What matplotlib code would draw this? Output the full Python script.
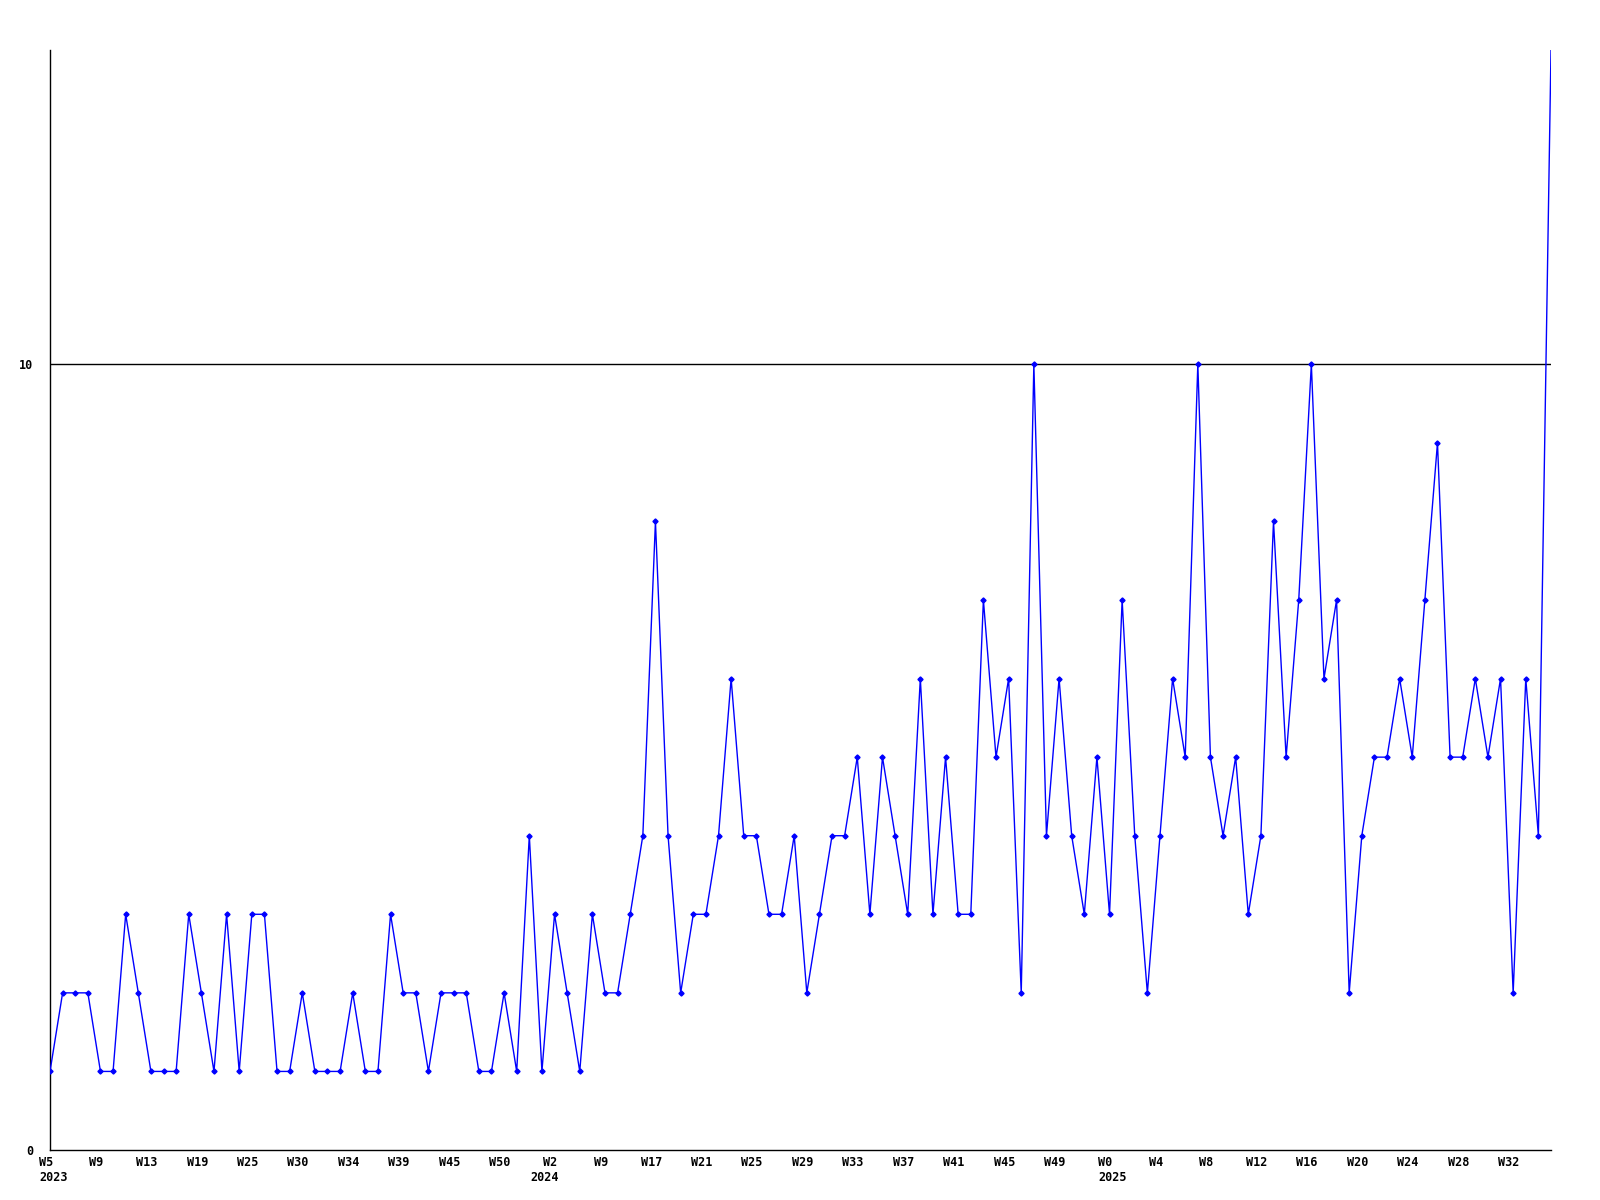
import matplotlib
matplotlib.use('Agg')
import matplotlib.pyplot as plt
import matplotlib.transforms as mtransforms

# weekly counts, one point per week (some weeks missing)
counts = [1, 2, 2, 2, 1, 1, 3, 2, 1, 1,
          1, 3, 2, 1, 3, 1, 3, 3, 1, 1,
          2, 1, 1, 1, 2, 1, 1, 3, 2, 2,
          1, 2, 2, 2, 1, 1, 2, 1, 4, 1,
          3, 2, 1, 3, 2, 2, 3, 4, 8, 4,
          2, 3, 3, 4, 6, 4, 4, 3, 3, 4,
          2, 3, 4, 4, 5, 3, 5, 4, 3, 6,
          3, 5, 3, 3, 7, 5, 6, 2, 10, 4,
          6, 4, 3, 5, 3, 7, 4, 2, 4, 6,
          5, 10, 5, 4, 5, 3, 4, 8, 5, 7,
          10, 6, 7, 2, 4, 5, 5, 6, 5, 7,
          9, 5, 5, 6, 5, 6, 2, 6, 4, 14]

week_labels = ['W5', 'W9', 'W13', 'W19', 'W25', 'W30', 'W34', 'W39', 'W45', 'W50',
               'W2', 'W9', 'W17', 'W21', 'W25', 'W29', 'W33', 'W37', 'W41', 'W45',
               'W49', 'W0', 'W4', 'W8', 'W12', 'W16', 'W20', 'W24', 'W28', 'W32']
label_step = 4
years = ['2023', '2024', '2025']
year_pos = [0, 40, 84]

y_ticks = [0, 10]

font = dict(family='DejaVu Sans Mono', fontweight='bold', fontsize=8.5)

fig = plt.figure(figsize=(16, 12), dpi=100)
ax = fig.add_axes([50/1600, 50/1200, 1501/1600, 1100/1200])

x = list(range(len(counts)))
ax.axhline(10, color='black', lw=1.0, zorder=1)
# last point sits on the top edge, no marker drawn there
ax.plot(x, counts, color='#0000ff', lw=1.0, marker='D', ms=2.6,
        markevery=list(range(len(counts) - 1)), zorder=3)

ax.set_xlim(0, len(counts) - 1)
ax.set_ylim(0, 14)

for s in ['top', 'right']:
    ax.spines[s].set_visible(False)
for s in ['left', 'bottom']:
    ax.spines[s].set_linewidth(1.0)
    ax.spines[s].set_color('black')

ax.set_yticks(y_ticks)
ax.set_yticklabels([str(v) for v in y_ticks], **font)
ax.set_xticks(x[::label_step])
ax.set_xticklabels(week_labels, **font)
ax.tick_params(axis='both', length=0)
ax.tick_params(axis='y', pad=12)
ax.tick_params(axis='x', pad=4)

shift = mtransforms.ScaledTranslation(-3/72, 0, fig.dpi_scale_trans)
for lbl in ax.get_xticklabels():
    lbl.set_transform(lbl.get_transform() + shift)

for yr, p in zip(years, year_pos):
    ha = 'right' if yr == '2024' else 'left'
    dx = 3 if yr == '2024' else -8
    ax.annotate(yr, xy=(p, 0), xycoords=('data', 'axes fraction'),
                xytext=(dx, -15), textcoords='offset points',
                ha=ha, va='top', **font)

fig.savefig('out.png', dpi=100)
